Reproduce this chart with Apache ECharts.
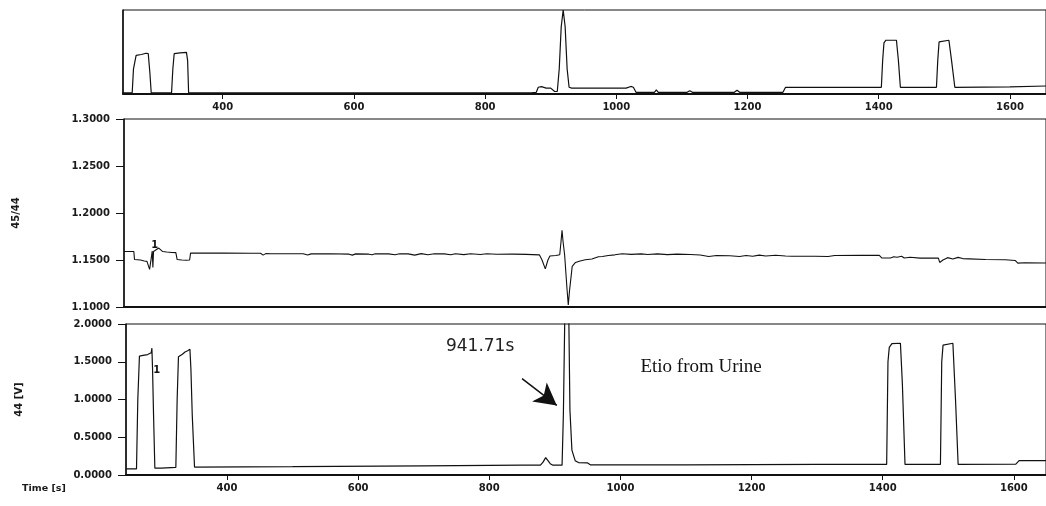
<!DOCTYPE html>
<html>
<head>
<meta charset="utf-8">
<script src="https://cdn.jsdelivr.net/npm/echarts@6/dist/echarts.min.js"></script>
<style>
html,body{margin:0;padding:0;background:#fff;}
#c{width:1046px;height:506px;}
</style>
</head>
<body>
<div id="c"></div>
<script>
// ---- data ----
var xTicks = [400, 600, 800, 1000, 1200, 1400, 1600];
var ratioTicks = [1.10, 1.15, 1.20, 1.25, 1.30];
var ampTicks = [0.0, 0.5, 1.0, 1.5, 2.0];

// top overview trace (relative units 0-100)
var topTime = [247,262,264,268,276,283,286.5,289,291,322,324,326,335,344.7,346.5,348,870,878,881,886,893,900,906,910,913,916,919,922,925,928,932,960,990,1015,1018,1022,1026,1030,1058,1061,1064,1108,1112,1116,1180,1184,1188,1254,1258,1404,1406,1408,1411,1427,1430,1433,1488,1490,1492,1495,1507,1511,1516,1600,1655];
var topSig  = [1.5,1.5,30,46,47,48.5,48,25,1.5,1.5,30,48,49,49.5,40,1.5,1.5,2,8,8.7,7,7,3,3,30,80,100,80,30,8,7,7,7,7,7.5,9,8,2,2,5,2,2,4,2,2,4.5,2,2,8,8,40,61,64,64,40,8,8,40,62,64,64,40,8,8.5,9.5];

// 45/44 ratio trace
var ratioTime = [247,262,263,272,278,282,285,286,287.5,288.5,290,291,292,300,306,312,320,326,328,335,342,347,348.5,400,440,455,459,463,471,474,478,520,527,532,560,590,595,600,620,625,630,650,660,667,680,690,700,710,720,735,745,752,765,775,790,800,815,840,860,880,884,889,893,896,905,911,913,914.5,916,918.5,922,924,926,930,935,942,950,960,970,976,985,995,1006,1020,1035,1045,1060,1075,1090,1110,1125,1138,1150,1170,1185,1195,1205,1215,1225,1240,1255,1265,1300,1320,1330,1370,1398,1402,1415,1420,1425,1432,1436,1445,1460,1488,1490,1495,1502,1510,1518,1525,1535,1560,1590,1605,1609,1620,1652];
var ratioVal  = [1.159,1.159,1.1505,1.150,1.149,1.1485,1.148,1.140,1.1395,1.152,1.1596,1.142,1.159,1.1627,1.159,1.1585,1.158,1.1578,1.1505,1.150,1.1498,1.150,1.1575,1.1573,1.1572,1.1572,1.1552,1.1568,1.1567,1.155,1.1567,1.1567,1.1553,1.1565,1.1566,1.1562,1.1552,1.1565,1.1562,1.1556,1.1566,1.1565,1.1555,1.1567,1.1565,1.1552,1.1568,1.1556,1.1567,1.1565,1.1555,1.1566,1.1557,1.1567,1.1558,1.1566,1.1561,1.1563,1.156,1.1555,1.150,1.1405,1.150,1.1542,1.1548,1.1556,1.170,1.1816,1.170,1.155,1.120,1.1021,1.118,1.1432,1.1474,1.149,1.1503,1.151,1.1535,1.1538,1.1548,1.1555,1.1567,1.156,1.1565,1.1558,1.1565,1.1557,1.1563,1.1558,1.1553,1.1537,1.1548,1.1545,1.1537,1.1548,1.154,1.1552,1.1543,1.155,1.1543,1.154,1.154,1.1538,1.1548,1.1549,1.1549,1.1521,1.1521,1.1535,1.153,1.154,1.1522,1.153,1.152,1.152,1.1474,1.150,1.1525,1.151,1.1528,1.1515,1.1512,1.1505,1.1503,1.1495,1.1467,1.147,1.1468];

// 44 [V] trace
var ampTime = [246,262,264,266.5,272,279,282,284.5,285.5,286.5,288,290,300,322,324,326,332,336,340,343.5,345,347,350.5,500,700,850,855,858,861,878,882,886,889,893,897,911,913,915,918,921,923,926,931,936,950,954,1100,1300,1406,1408,1410,1414,1427,1430,1434,1488,1490,1492,1495,1507,1511,1515,1603,1608,1649];
var ampVal  = [0.08,0.08,1.0,1.575,1.585,1.595,1.61,1.62,1.68,1.4,0.8,0.09,0.09,0.10,1.0,1.565,1.6,1.63,1.645,1.665,1.4,0.8,0.105,0.11,0.12,0.13,0.13,0.15,0.13,0.13,0.17,0.23,0.22,0.15,0.13,0.13,0.8,2.0,2.6,2.3,0.86,0.33,0.19,0.165,0.16,0.135,0.135,0.14,0.14,1.5,1.69,1.74,1.745,1.2,0.14,0.14,1.5,1.72,1.745,1.745,1.0,0.14,0.145,0.19,0.19];

// annotations (data coordinates)
var peakLabel = '941.71s';
var peakLabelPos = [786, 1.695];
var sampleLabel = 'Etio from Urine';
var sampleLabelPos = [1123, 1.43];
var arrowFrom = [850, 1.276];
var arrowTo = [903, 0.921];
var markerAmp = [293, 1.39];
var markerRatio = [294, 1.166];

function pairs(xs, ys){ var o=[]; for(var i=0;i<xs.length;i++) o.push([xs[i], ys[i]]); return o; }

var tickFont = {fontFamily:'DejaVu Sans', fontWeight:'bold', fontSize:10, color:'#1a1a1a'};
var ink = '#111';

function xAxisCfg(idx, min, max, showLabels, showTicks, margin){
  return {
    type:'value', gridIndex: idx, min:min, max:max,
    axisLine:{show:true, lineStyle:{color:ink, width:2}},
    axisTick:{show:showTicks, customValues:xTicks, length:5, inside:false, lineStyle:{color:ink, width:1}},
    axisLabel:{show:showLabels, customValues:xTicks, margin:margin, formatter:function(v){return String(v);},
      fontFamily:tickFont.fontFamily, fontWeight:tickFont.fontWeight, fontSize:tickFont.fontSize, color:tickFont.color},
    splitLine:{show:false}
  };
}

var chart = echarts.init(document.getElementById('c'), null, {renderer:'canvas'});
chart.setOption({
  animation:false,
  backgroundColor:'#fff',
  grid:[
    {left:123, right:-2, top:10, height:84, show:true, borderColor:ink, borderWidth:1},
    {left:124, right:-2, top:119, height:188, show:true, borderColor:ink, borderWidth:1},
    {left:126, right:-2, top:324, height:151, show:true, borderColor:ink, borderWidth:1}
  ],
  xAxis:[
    xAxisCfg(0, 248, 1655, true, true, 8),
    xAxisCfg(1, 247, 1652, false, false, 8),
    xAxisCfg(2, 246, 1649, true, true, 8)
  ],
  yAxis:[
    {type:'value', gridIndex:0, min:0, max:100,
     axisLine:{show:true, lineStyle:{color:ink, width:1.5}},
     axisTick:{show:false}, axisLabel:{show:false}, splitLine:{show:false}},
    {type:'value', gridIndex:1, min:1.10, max:1.30, interval:0.05,
     name:'45/44', nameLocation:'middle', nameGap:103, nameRotate:90,
     nameTextStyle:{fontFamily:'DejaVu Sans', fontWeight:'bold', fontSize:10, color:'#1a1a1a'},
     axisLine:{show:true, lineStyle:{color:ink, width:1.5}},
     axisTick:{show:true, length:8, lineStyle:{color:ink, width:1}},
     axisLabel:{margin:14, formatter:function(v){return v.toFixed(4);}, fontFamily:tickFont.fontFamily, fontWeight:tickFont.fontWeight, fontSize:tickFont.fontSize, color:tickFont.color},
     splitLine:{show:false}},
    {type:'value', gridIndex:2, min:0, max:2, interval:0.5,
     name:'44 [V]', nameLocation:'middle', nameGap:102, nameRotate:90,
     nameTextStyle:{fontFamily:'DejaVu Sans', fontWeight:'bold', fontSize:10, color:'#1a1a1a'},
     axisLine:{show:true, lineStyle:{color:ink, width:1.5}},
     axisTick:{show:true, length:8, lineStyle:{color:ink, width:1}},
     axisLabel:{margin:14, formatter:function(v){return v.toFixed(4);}, fontFamily:tickFont.fontFamily, fontWeight:tickFont.fontWeight, fontSize:tickFont.fontSize, color:tickFont.color},
     splitLine:{show:false}}
  ],
  series:[
    {type:'line', xAxisIndex:0, yAxisIndex:0, data:pairs(topTime, topSig), showSymbol:false, symbol:'none',
     lineStyle:{color:ink, width:1.2}, clip:true},
    {type:'line', xAxisIndex:1, yAxisIndex:1, data:pairs(ratioTime, ratioVal), showSymbol:false, symbol:'none',
     lineStyle:{color:ink, width:1.1}, clip:true,
     markPoint:{symbol:'rect', symbolSize:1, itemStyle:{color:'rgba(0,0,0,0)'},
       label:{show:true, position:'inside', formatter:'1', fontFamily:'DejaVu Sans', fontWeight:'bold', fontSize:10, color:ink},
       data:[{coord:markerRatio}]}},
    {type:'line', xAxisIndex:2, yAxisIndex:2, data:pairs(ampTime, ampVal), showSymbol:false, symbol:'none',
     lineStyle:{color:ink, width:1.2}, clip:true,
     markPoint:{symbol:'rect', symbolSize:1, itemStyle:{color:'rgba(0,0,0,0)'},
       data:[
         {coord:markerAmp, label:{show:true, position:'inside', formatter:'1', fontFamily:'DejaVu Sans', fontWeight:'bold', fontSize:10, color:ink}},
         {coord:peakLabelPos, label:{show:true, position:'inside', formatter:peakLabel, fontFamily:'DejaVu Sans', fontSize:17, color:'#222'}},
         {coord:sampleLabelPos, label:{show:true, position:'inside', formatter:sampleLabel, fontFamily:'Liberation Serif', fontSize:19, color:'#111'}}
       ]},
     markLine:{silent:true, symbol:['none','arrow'], symbolSize:[18,22],
       lineStyle:{color:ink, width:1.5, type:'solid'}, label:{show:false},
       data:[[{coord:arrowFrom},{coord:arrowTo}]]}}
  ],
  graphic:[
    {type:'text', left:22, top:484, style:{text:'Time [s]', fontFamily:'DejaVu Sans', fontWeight:'bold', fontSize:9.5, fill:'#1a1a1a'}}
  ]
});
</script>
</body>
</html>
